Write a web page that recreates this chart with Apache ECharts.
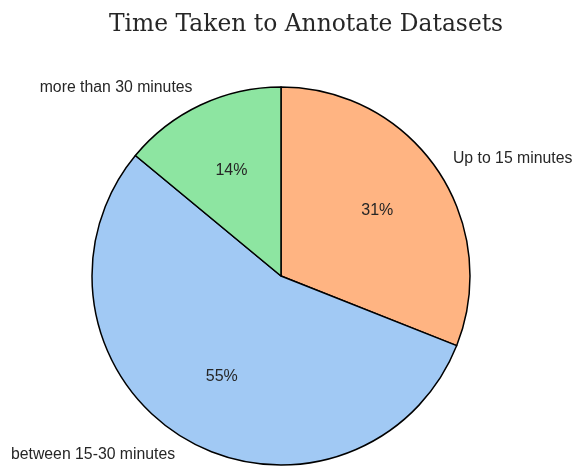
<!DOCTYPE html>
<html>
<head>
<meta charset="utf-8">
<script src="https://cdn.jsdelivr.net/npm/echarts@6/dist/echarts.min.js"></script>
<style>html,body{margin:0;padding:0;background:#fff;}#c{width:574px;height:468px;}</style>
</head>
<body>
<div id="c"></div>
<script>
const categories = ['Up to 15 minutes', 'between 15-30 minutes', 'more than 30 minutes'];
const values = [31, 55, 14];
const colors = ['#ffb482', '#a1c9f4', '#8de5a1'];

const R = 189;
const chart = echarts.init(document.getElementById('c'), null, {renderer: 'canvas'});
const mainData = categories.map((c, i) => ({name: c, value: values[i], itemStyle: {color: colors[i]}}));
const pctData = categories.map((c, i) => ({name: c, value: values[i]}));
chart.setOption({
  animation: false,
  backgroundColor: '#ffffff',
  title: {
    text: 'Time Taken to Annotate Datasets',
    left: 104,
    top: 8,
    textStyle: {fontFamily: 'DejaVu Serif', fontSize: 23.4, fontWeight: 'normal', color: '#262626'}
  },
  series: [
    {
      type: 'pie',
      center: [281, 276],
      radius: [0, R],
      startAngle: 90,
      clockwise: true,
      avoidLabelOverlap: false,
      data: mainData,
      itemStyle: {borderColor: '#000000', borderWidth: 1.5},
      label: {
        show: true,
        position: 'outside',
        distanceToLabelLine: 0,
        fontFamily: 'Liberation Sans',
        fontSize: 15.8,
        color: '#262626',
        formatter: '{b}'
      },
      labelLine: {show: false, length: R * 0.1, length2: 0},
      emphasis: {disabled: true}
    },
    {
      type: 'pie',
      center: [281, 276],
      radius: [0, R * 1.2],
      startAngle: 90,
      clockwise: true,
      silent: true,
      avoidLabelOverlap: false,
      data: pctData,
      itemStyle: {color: 'rgba(0,0,0,0)', borderWidth: 0},
      label: {
        show: true,
        position: 'inside',
        fontFamily: 'Liberation Sans',
        fontSize: 16,
        color: '#262626',
        formatter: p => Math.round(p.percent) + '%'
      },
      labelLine: {show: false},
      emphasis: {disabled: true}
    }
  ]
});
</script>
</body>
</html>
